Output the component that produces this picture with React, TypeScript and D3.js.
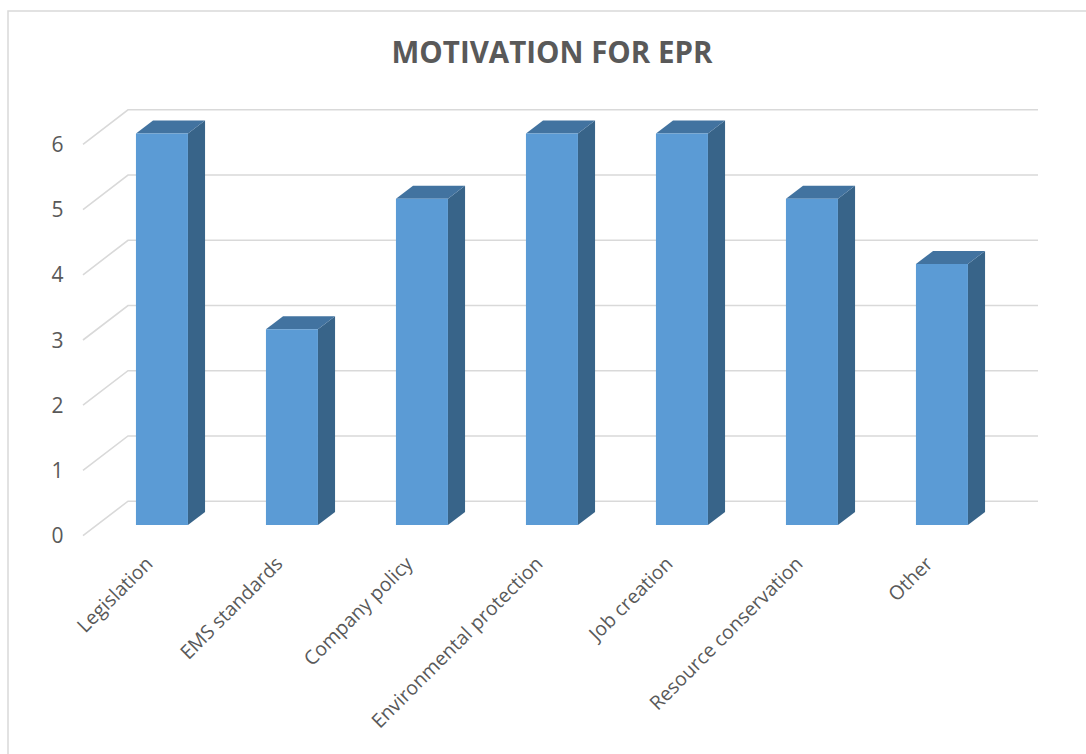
import React from "react";
import * as d3 from "d3";

const categories = [
  "Legislation",
  "EMS standards",
  "Company policy",
  "Environmental protection",
  "Job creation",
  "Resource conservation",
  "Other",
];
const values = [6, 3, 5, 6, 6, 5, 4];
const yTicks = [0, 1, 2, 3, 4, 5, 6];
const title = "MOTIVATION FOR EPR";

const W = 1086;
const H = 754;
const DEPTH_DX = 45;
const DEPTH_DY = -34.5;
const BAR_D0 = 0.31;
const BAR_D1 = 0.69;

export default function App() {
  const x = d3
    .scaleBand<string>()
    .domain(categories)
    .range([83, 993])
    .paddingInner(0.6)
    .paddingOuter(0.3);
  const y = d3.scaleLinear().domain([0, 6]).range([535.7, 144.3]);

  const proj = (px: number, v: number, d: number): [number, number] => [
    px + d * DEPTH_DX,
    y(v) + d * DEPTH_DY,
  ];
  const pts = (arr: [number, number][]) => arr.map((p) => p.join(",")).join(" ");

  const font = "'Open Sans', 'DejaVu Sans', sans-serif";
  const textColor = "#595959";
  const grid = "#d9d9d9";
  const x0 = x.range()[0];
  const x1 = x.range()[1];

  return (
    <svg
      width={W}
      height={H}
      style={{ position: "absolute", left: 0, top: 0, background: "#fff" }}
    >
      <rect x={0} y={0} width={W} height={H} fill="#fff" />
      <rect x={8} y={11} width={W + 20} height={H + 20} fill="#fff" stroke={grid} strokeWidth={1.5} />
      <text
        x={552}
        y={63}
        textAnchor="middle"
        fontFamily={font}
        fontWeight={700}
        fontSize={29.5}
        fill={textColor}
      >
        {title}
      </text>
      {/* gridlines: left side wall diagonals and back wall */}
      {yTicks.map((t) => {
        const a = proj(x0, t, 0);
        const b = proj(x0, t, 1);
        const c = proj(x1, t, 1);
        return (
          <g key={t}>
            <polyline points={pts([a, b, c])} fill="none" stroke={grid} strokeWidth={1.6} />
            <text
              x={57.5}
              y={a[1]}
              dy="0.36em"
              textAnchor="middle"
              fontFamily={font}
              fontSize={21}
              fill={textColor}
            >
              {t}
            </text>
          </g>
        );
      })}
      {/* bars */}
      {categories.map((cat, i) => {
        const v = values[i];
        const l = x(cat)!;
        const r = l + x.bandwidth();
        const fl0 = proj(l, 0, BAR_D0);
        const fr0 = proj(r, 0, BAR_D0);
        const flt = proj(l, v, BAR_D0);
        const frt = proj(r, v, BAR_D0);
        const blt = proj(l, v, BAR_D1);
        const brt = proj(r, v, BAR_D1);
        const br0 = proj(r, 0, BAR_D1);
        const cx = (l + r) / 2 + BAR_D0 * DEPTH_DX;
        return (
          <g key={cat}>
            <polygon points={pts([fr0, frt, brt, br0])} fill="#386489" />
            <polygon points={pts([flt, frt, brt, blt])} fill="#4273a0" />
            <polygon points={pts([fl0, fr0, frt, flt])} fill="#5b9bd5" />
            <text
              transform={`translate(${cx - 8},${565}) rotate(-45)`}
              textAnchor="end"
              fontFamily={font}
              fontSize={19.5}
              fill={textColor}
            >
              {cat}
            </text>
          </g>
        );
      })}
    </svg>
  );
}
